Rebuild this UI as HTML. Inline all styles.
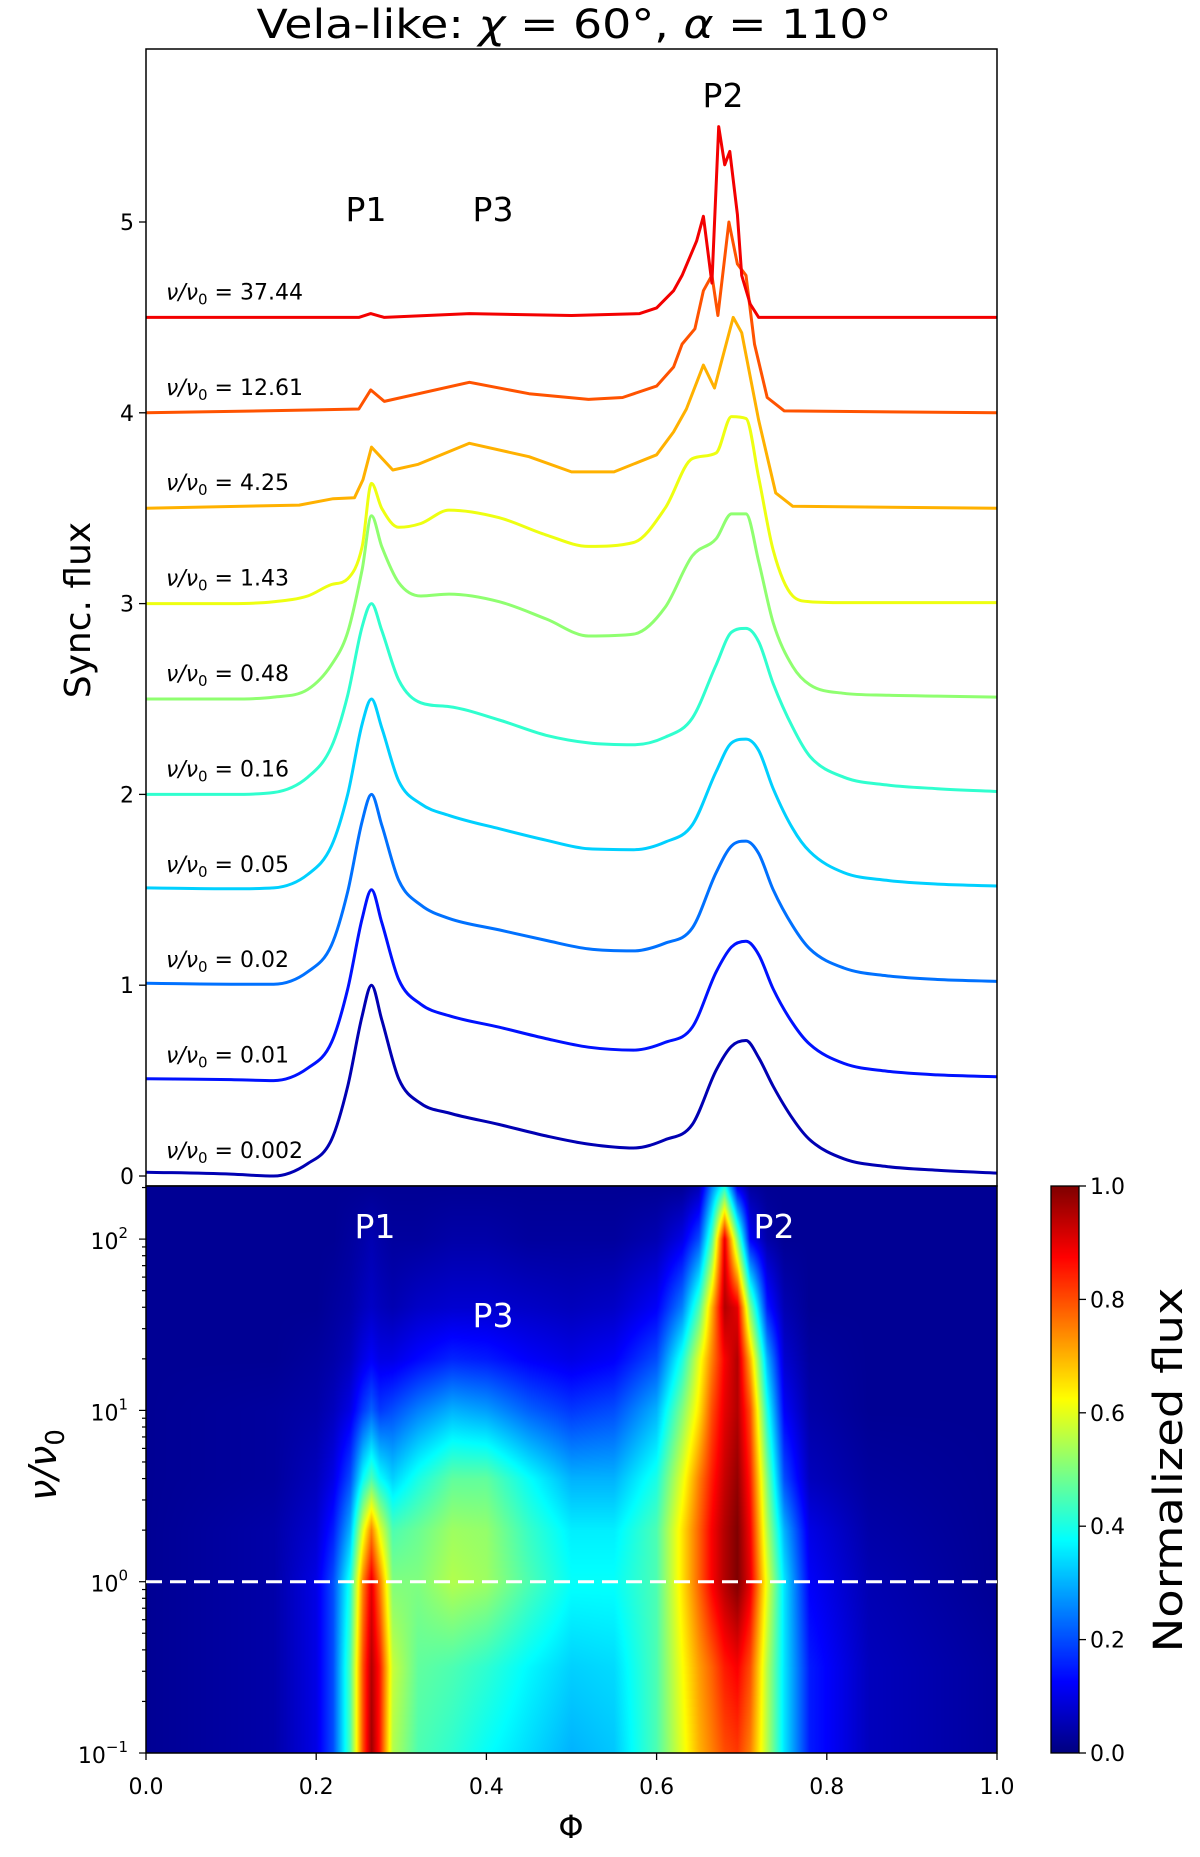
<!DOCTYPE html>
<html><head><meta charset="utf-8">
<style>
html,body{margin:0;padding:0;background:#fff;}
svg{display:block;font-family:"DejaVu Sans","Liberation Sans",sans-serif;}
</style></head>
<body>
<svg id="fig" width="1200" height="1857" viewBox="0 0 1200 1857" xmlns="http://www.w3.org/2000/svg">
  <text x="574" y="38" font-size="40" text-anchor="middle" textLength="635" lengthAdjust="spacingAndGlyphs">Vela-like: <tspan font-style="italic">χ</tspan> = 60°,  <tspan font-style="italic">α</tspan> = 110°</text>
  <g id="topPanel"></g>
  <foreignObject x="146" y="1186" width="851" height="567">
    <canvas xmlns="http://www.w3.org/1999/xhtml" id="heat" width="851" height="567" style="display:block"></canvas>
  </foreignObject>
  <foreignObject x="1051" y="1186" width="28" height="567">
    <canvas xmlns="http://www.w3.org/1999/xhtml" id="cbar" width="28" height="567" style="display:block"></canvas>
  </foreignObject>
  <g id="botPanel"></g>
</svg>
<script>
// ---- light curve data ----
const curveLabels = ["0.002","0.01","0.02","0.05","0.16","0.48","1.43","4.25","12.61","37.44"];
const curveOffsets = [0,0.5,1,1.5,2,2.5,3,3.5,4,4.5];
const phaseGrid = [0,0.1,0.15,0.19,0.218,0.237,0.254,0.265,0.277,0.297,0.323,0.356,0.415,0.47,0.52,0.573,0.61,0.642,0.67,0.688,0.705,0.72,0.737,0.76,0.78,0.82,0.87,0.93,1.0];
const flux0002 = [0.02,0.01,0.0,0.065,0.19,0.47,0.84,1.0,0.82,0.51,0.38,0.33,0.27,0.21,0.167,0.147,0.19,0.27,0.555,0.68,0.71,0.62,0.47,0.3,0.19,0.09,0.05,0.03,0.015];
const flux001 = [0.01,0.005,0.0,0.065,0.2,0.48,0.85,1.0,0.83,0.53,0.4,0.34,0.28,0.22,0.175,0.16,0.2,0.28,0.57,0.70,0.73,0.66,0.48,0.3,0.19,0.09,0.05,0.03,0.02];
const flux002 = [0.01,0.005,0.005,0.07,0.21,0.49,0.86,1.0,0.84,0.55,0.42,0.35,0.29,0.235,0.19,0.18,0.22,0.3,0.59,0.73,0.755,0.69,0.5,0.31,0.19,0.09,0.05,0.03,0.02];
const flux005 = [0.01,0.005,0.01,0.08,0.23,0.5,0.87,1.0,0.85,0.57,0.45,0.39,0.32,0.26,0.215,0.21,0.25,0.34,0.62,0.77,0.79,0.73,0.53,0.32,0.2,0.09,0.05,0.03,0.02];
const flux016 = [0.0,0.0,0.01,0.09,0.25,0.52,0.88,1.0,0.86,0.6,0.48,0.46,0.39,0.31,0.27,0.26,0.3,0.4,0.68,0.85,0.87,0.8,0.58,0.35,0.2,0.09,0.05,0.03,0.015];
const flux048 = [0.0,0.0,0.01,0.05,0.18,0.35,0.68,0.96,0.8,0.61,0.54,0.55,0.51,0.42,0.33,0.34,0.48,0.75,0.84,0.97,0.97,0.72,0.4,0.17,0.075,0.03,0.02,0.015,0.01];
const flux143 = [0.0,0.0,0.01,0.04,0.1,0.13,0.3,0.63,0.5,0.4,0.42,0.49,0.45,0.36,0.3,0.32,0.5,0.76,0.79,0.98,0.97,0.66,0.28,0.04,0.01,0.005,0.005,0.005,0.005];
const phase425 = [0,0.18,0.22,0.245,0.255,0.265,0.29,0.32,0.38,0.45,0.5,0.55,0.6,0.62,0.635,0.655,0.668,0.69,0.70,0.72,0.74,0.76,1.0];
const flux425 = [0,0.016,0.05,0.055,0.15,0.32,0.2,0.23,0.34,0.27,0.19,0.19,0.28,0.4,0.52,0.75,0.63,1.0,0.92,0.46,0.08,0.01,0];
const phase1261 = [0,0.2,0.25,0.264,0.28,0.38,0.45,0.52,0.56,0.6,0.62,0.63,0.645,0.655,0.665,0.672,0.685,0.695,0.705,0.715,0.73,0.75,1.0];
const flux1261 = [0,0.015,0.02,0.12,0.06,0.16,0.1,0.07,0.08,0.14,0.24,0.36,0.44,0.64,0.72,0.51,1.0,0.78,0.72,0.36,0.08,0.01,0];
const phase3744 = [0,0.25,0.264,0.28,0.38,0.5,0.58,0.6,0.62,0.63,0.647,0.655,0.665,0.673,0.68,0.686,0.695,0.70,0.71,0.72,1.0];
const flux3744 = [0,0.0,0.02,0.0,0.02,0.01,0.02,0.05,0.14,0.22,0.4,0.53,0.18,1.0,0.80,0.87,0.54,0.22,0.07,0.0,0];
const curvePhases = [phaseGrid,phaseGrid,phaseGrid,phaseGrid,phaseGrid,phaseGrid,phaseGrid,phase425,phase1261,phase3744];
const curveFluxes = [flux0002,flux001,flux002,flux005,flux016,flux048,flux143,flux425,flux1261,flux3744];
const topYTicks = [0,1,2,3,4,5];
const xTicks = [0,0.2,0.4,0.6,0.8,1.0];
const xTickLabels = ["0.0","0.2","0.4","0.6","0.8","1.0"];
// ---- heatmap data (normalized flux; rows = log10(nu/nu0)) ----
const heatPhases = [0,0.15,0.2,0.22,0.24,0.255,0.265,0.275,0.29,0.32,0.36,0.4,0.45,0.5,0.55,0.6,0.63,0.65,0.665,0.68,0.695,0.71,0.73,0.75,0.78,0.85,1.0];
const heatLogNu = [-1,-0.5,0,0.3,0.6,1.0,1.3,1.6,2.0,2.31];
const heatRowA = [0.02,0.04,0.1,0.2,0.45,0.8,0.97,0.85,0.55,0.45,0.42,0.38,0.34,0.3,0.32,0.45,0.6,0.7,0.75,0.8,0.82,0.75,0.55,0.35,0.15,0.06,0.03];
const heatRowB = [0.02,0.04,0.1,0.2,0.45,0.8,0.95,0.85,0.57,0.47,0.45,0.42,0.37,0.33,0.34,0.45,0.62,0.72,0.78,0.85,0.88,0.8,0.55,0.35,0.15,0.06,0.03];
const heatRowC = [0.02,0.04,0.1,0.2,0.4,0.75,0.9,0.75,0.5,0.5,0.55,0.53,0.45,0.38,0.38,0.45,0.65,0.78,0.88,0.95,1.0,0.9,0.6,0.35,0.12,0.05,0.02];
const heatRowD = [0.02,0.04,0.08,0.15,0.3,0.6,0.75,0.6,0.45,0.48,0.53,0.52,0.43,0.36,0.36,0.45,0.65,0.78,0.88,0.95,1.0,0.88,0.55,0.3,0.1,0.04,0.02];
const heatRowE = [0.02,0.03,0.06,0.1,0.2,0.38,0.45,0.38,0.33,0.4,0.47,0.47,0.38,0.3,0.3,0.4,0.6,0.75,0.85,0.93,0.98,0.85,0.5,0.2,0.06,0.03,0.02];
const heatRowF = [0.02,0.03,0.04,0.06,0.1,0.18,0.22,0.18,0.2,0.25,0.3,0.28,0.22,0.18,0.2,0.3,0.5,0.65,0.8,0.9,0.95,0.8,0.4,0.12,0.04,0.02,0.02];
const heatRowG = [0.02,0.02,0.03,0.04,0.06,0.1,0.12,0.1,0.1,0.13,0.16,0.15,0.12,0.1,0.12,0.2,0.4,0.6,0.75,0.88,0.95,0.7,0.3,0.08,0.03,0.02,0.02];
const heatRowH = [0.02,0.02,0.02,0.03,0.04,0.06,0.07,0.06,0.05,0.07,0.08,0.08,0.07,0.06,0.07,0.12,0.25,0.45,0.7,0.95,0.9,0.5,0.15,0.05,0.02,0.02,0.02];
const heatRowI = [0.02,0.02,0.02,0.02,0.03,0.04,0.05,0.04,0.03,0.03,0.04,0.04,0.03,0.03,0.03,0.05,0.1,0.2,0.45,0.9,0.5,0.12,0.04,0.02,0.02,0.02,0.02];
const heatRowJ = [0.02,0.02,0.02,0.02,0.02,0.02,0.02,0.02,0.02,0.02,0.02,0.02,0.02,0.02,0.02,0.02,0.02,0.05,0.25,0.4,0.1,0.03,0.02,0.02,0.02,0.02,0.02];
const heatRows = [heatRowA,heatRowB,heatRowC,heatRowD,heatRowE,heatRowF,heatRowG,heatRowH,heatRowI,heatRowJ];
const heatYTickExp = [-1,0,1,2];
const cbarTicks = [0,0.2,0.4,0.6,0.8,1.0];
const cbarTickLabels = ["0.0","0.2","0.4","0.6","0.8","1.0"];

const NS = "http://www.w3.org/2000/svg";
const AX_L = 146, AX_R = 997, TOP_T = 49, TOP_B = 1186, HM_T = 1186, HM_B = 1753;
const Y0 = 1176, YU = 190.8;
const LOG_MIN = -1, LOG_MAX = 2.31;
const xS = p => AX_L + p * (AX_R - AX_L);
const yTop = v => Y0 - v * YU;
const yLog = l => HM_B - (l - LOG_MIN) / (LOG_MAX - LOG_MIN) * (HM_B - HM_T);
function jet(x){x=Math.max(0,Math.min(1,x));const c=t=>Math.max(0,Math.min(1,t));
  return [c(Math.min(4*x-1.5,-4*x+4.5)),c(Math.min(4*x-0.5,-4*x+3.5)),c(Math.min(4*x+0.5,-4*x+2.5))].map(v=>Math.round(v*255));}
function mk(tag, attrs, parent, text){const e=document.createElementNS(NS,tag);for(const k in attrs)e.setAttribute(k,attrs[k]);if(text!==undefined)e.textContent=text;parent.appendChild(e);return e;}

const topG = document.getElementById('topPanel');
const botG = document.getElementById('botPanel');

function pathFor(ps, fs, off, smooth){
  const X = ps.map(xS), Y = fs.map(v=>yTop(off+v)), n = X.length;
  let d = "M"+X[0].toFixed(1)+","+Y[0].toFixed(1);
  if(!smooth){for(let i=1;i<n;i++) d+=" L"+X[i].toFixed(1)+","+Y[i].toFixed(1); return d;}
  // monotone cubic (Fritsch-Carlson)
  const dl=[],m=[];
  for(let i=0;i<n-1;i++) dl.push((Y[i+1]-Y[i])/(X[i+1]-X[i]));
  m[0]=dl[0]; m[n-1]=dl[n-2];
  for(let i=1;i<n-1;i++){ m[i] = (dl[i-1]*dl[i]<=0) ? 0 : (dl[i-1]+dl[i])/2; }
  for(let i=0;i<n-1;i++){
    if(dl[i]===0){m[i]=0;m[i+1]=0;continue;}
    const a=m[i]/dl[i], b=m[i+1]/dl[i], s=a*a+b*b;
    if(s>9){const t=3/Math.sqrt(s);m[i]=t*a*dl[i];m[i+1]=t*b*dl[i];}
  }
  for(let i=0;i<n-1;i++){
    const h=(X[i+1]-X[i])/3;
    d+=" C"+(X[i]+h).toFixed(1)+","+(Y[i]+m[i]*h).toFixed(1)+" "+(X[i+1]-h).toFixed(1)+","+(Y[i+1]-m[i+1]*h).toFixed(1)+" "+X[i+1].toFixed(1)+","+Y[i+1].toFixed(1);
  }
  return d;
}
for(let i=0;i<curveFluxes.length;i++){
  const col = jet(0.05 + i*0.093);
  const path = mk('path',{d:pathFor(curvePhases[i],curveFluxes[i],curveOffsets[i],i<7),fill:'none',stroke:`rgb(${col})`,'stroke-width':3,'stroke-linejoin':'round'},topG);
  
  
  const t = mk('text',{x:166,y:yTop(curveOffsets[i])-18,'font-size':22},topG);
  
  
  mk('tspan',{'font-style':'italic'},t,'ν/ν');
  mk('tspan',{'font-size':15,dy:5},t,'0');
  mk('tspan',{dy:-5},t,' = '+curveLabels[i]);
}
const frame = mk('rect',{x:AX_L,y:TOP_T,width:AX_R-AX_L,height:TOP_B-TOP_T,fill:'none',stroke:'#000','stroke-width':1.5},topG);


topYTicks.forEach(v=>{
  mk('line',{x1:AX_L-7,x2:AX_L,y1:yTop(v),y2:yTop(v),stroke:'#000','stroke-width':1.3},topG);
  const t=mk('text',{x:AX_L-12,y:yTop(v)+8,'font-size':22,'text-anchor':'end'},topG,String(v));
  
  
});
const yl = mk('text',{transform:'translate(90,610) rotate(-90)','font-size':36,'text-anchor':'middle'},topG,'Sync. flux');


[['P1',366,221],['P3',493,221],['P2',723,107]].forEach(a=>{
  const t=mk('text',{x:a[1],y:a[2],'font-size':33,'text-anchor':'middle'},topG,a[0]);
  
  
});

(function(){
  const cv=document.getElementById('heat'),ctx=cv.getContext('2d');
  const W=cv.width,H=cv.height,img=ctx.createImageData(W,H);
  function interp(xs,x){let j=0;while(j<xs.length-2&&x>xs[j+1])j++;const t=Math.max(0,Math.min(1,(x-xs[j])/(xs[j+1]-xs[j])));return [j,t];}
  for(let py=0;py<H;py++){
    const l=LOG_MAX-(py+0.5)/H*(LOG_MAX-LOG_MIN);
    const [r,tr]=interp(heatLogNu,l);
    for(let px=0;px<W;px++){
      const p=(px+0.5)/W;
      const [c,tc]=interp(heatPhases,p);
      const a=heatRows[r],b=heatRows[r+1];
      const v0=a[c]*(1-tc)+a[c+1]*tc, v1=b[c]*(1-tc)+b[c+1]*tc;
      const v=v0*(1-tr)+v1*tr;
      const col=jet(v);const k=(py*W+px)*4;
      img.data[k]=col[0];img.data[k+1]=col[1];img.data[k+2]=col[2];img.data[k+3]=255;
    }
  }
  ctx.putImageData(img,0,0);
  const cb=document.getElementById('cbar'),c2=cb.getContext('2d');
  for(let py=0;py<cb.height;py++){const col=jet(1-(py+0.5)/cb.height);c2.fillStyle=`rgb(${col})`;c2.fillRect(0,py,cb.width,1);}
})();
const hf = mk('rect',{x:AX_L,y:HM_T,width:AX_R-AX_L,height:HM_B-HM_T,fill:'none',stroke:'#000','stroke-width':1.5},botG);


const dash = mk('line',{x1:AX_L,x2:AX_R,y1:yLog(0),y2:yLog(0),stroke:'#fff','stroke-width':3,'stroke-dasharray':'16,8'},botG);


for(let e=-1;e<=2;e++){
  for(let m=1;m<10;m++){
    const l=e+Math.log10(m); if(l>LOG_MAX) break;
    mk('line',{x1:AX_L-(m===1?7:4),x2:AX_L,y1:yLog(l),y2:yLog(l),stroke:'#000','stroke-width':1.2},botG);
  }
}
heatYTickExp.forEach(e=>{
  const t=mk('text',{x:AX_L-18,y:yLog(e)+10,'font-size':22,'text-anchor':'end'},botG,'10');
  
  
  mk('tspan',{'font-size':15,dy:-11},t,e<0?'−1':String(e));
});
xTicks.forEach((p,i)=>{
  mk('line',{x1:xS(p),x2:xS(p),y1:HM_B,y2:HM_B+7,stroke:'#000','stroke-width':1.3},botG);
  const t=mk('text',{x:xS(p),y:HM_B+41,'font-size':22,'text-anchor':'middle'},botG,xTickLabels[i]);
  
  
});
const xl=mk('text',{x:571,y:1838,'font-size':32,'text-anchor':'middle'},botG,'Φ');


const hyl=mk('text',{transform:'translate(56,1465) rotate(-90)','font-size':38,'text-anchor':'middle'},botG);


mk('tspan',{'font-style':'italic'},hyl,'ν/ν');
mk('tspan',{'font-size':26,dy:8},hyl,'0');
[['P1',375,1238],['P2',774,1238],['P3',493,1327]].forEach(a=>{
  const t=mk('text',{x:a[1],y:a[2],'font-size':33,'text-anchor':'middle',fill:'#fff'},botG,a[0]);
  
  
});
const cf=mk('rect',{x:1051,y:HM_T,width:28,height:HM_B-HM_T,fill:'none',stroke:'#000','stroke-width':1.3},botG);


cbarTicks.forEach((v,i)=>{
  const y=HM_B-v*(HM_B-HM_T);
  mk('line',{x1:1079,x2:1086,y1:y,y2:y,stroke:'#000','stroke-width':1.3},botG);
  const t=mk('text',{x:1090,y:y+8,'font-size':22},botG,cbarTickLabels[i]);
  
  
});
const cl=mk('text',{transform:'translate(1182,1470) rotate(-90)','font-size':40,'text-anchor':'middle',textLength:365,lengthAdjust:'spacingAndGlyphs'},botG,'Normalized flux');


</script>
</body></html>
